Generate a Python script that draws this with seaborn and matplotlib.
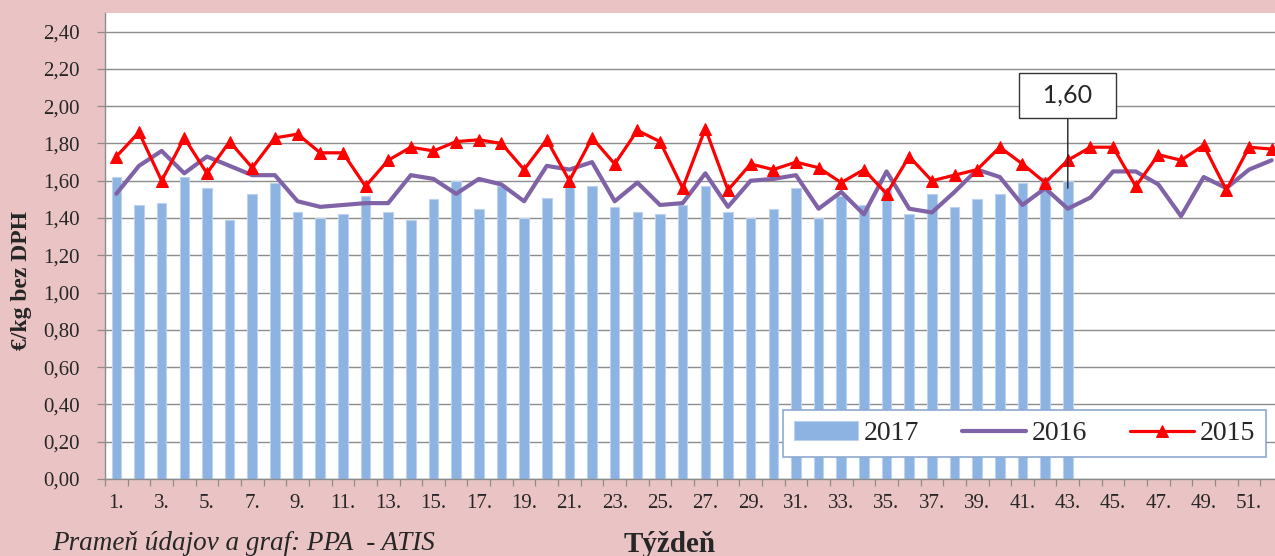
import pandas as pd
import seaborn as sns
import matplotlib
matplotlib.use("Agg")
import matplotlib.pyplot as plt

# data (EUR/kg without VAT, per week)
weeks = list(range(1, 53))
price_2017 = [1.62, 1.47, 1.48, 1.62, 1.56, 1.39, 1.53, 1.59, 1.43, 1.40,
              1.42, 1.52, 1.43, 1.39, 1.50, 1.60, 1.45, 1.57, 1.40, 1.51,
              1.60, 1.57, 1.46, 1.43, 1.42, 1.47, 1.57, 1.43, 1.40, 1.45,
              1.56, 1.40, 1.52, 1.47, 1.56, 1.42, 1.53, 1.46, 1.50, 1.53,
              1.59, 1.62, 1.60]
price_2016 = [1.53, 1.68, 1.76, 1.64, 1.73, 1.68, 1.63, 1.63, 1.49, 1.46,
              1.47, 1.48, 1.48, 1.63, 1.61, 1.53, 1.61, 1.58, 1.49, 1.68,
              1.66, 1.70, 1.49, 1.59, 1.47, 1.48, 1.64, 1.46, 1.60, 1.61,
              1.63, 1.45, 1.54, 1.42, 1.65, 1.45, 1.43, 1.54, 1.66, 1.62,
              1.47, 1.56, 1.45, 1.51, 1.65, 1.65, 1.58, 1.41, 1.62, 1.56,
              1.66, 1.71]
price_2015 = [1.73, 1.86, 1.60, 1.83, 1.64, 1.81, 1.67, 1.83, 1.85, 1.75,
              1.75, 1.57, 1.71, 1.78, 1.76, 1.81, 1.82, 1.80, 1.66, 1.82,
              1.60, 1.83, 1.69, 1.87, 1.81, 1.56, 1.88, 1.55, 1.69, 1.66,
              1.70, 1.67, 1.59, 1.66, 1.53, 1.73, 1.60, 1.63, 1.66, 1.78,
              1.69, 1.59, 1.71, 1.78, 1.78, 1.57, 1.74, 1.71, 1.79, 1.55,
              1.78, 1.77]
y_ticks = [0.0, 0.2, 0.4, 0.6, 0.8, 1.0, 1.2, 1.4, 1.6, 1.8, 2.0, 2.2, 2.4]
last_label = "1,60"

BG = "#EAC4C4"
W, H = 1275, 556

sns.set_style("white")
plt.rcParams["font.family"] = ["Liberation Serif", "DejaVu Serif"]

df17 = pd.DataFrame({"week": weeks[:len(price_2017)], "price": price_2017})
df_old = pd.DataFrame({"week": weeks, "p2016": price_2016, "p2015": price_2015})

fig = plt.figure(figsize=(W / 100, H / 100), dpi=100, facecolor=BG)
# plot area runs slightly past the right edge, as in the cropped original
ax = fig.add_axes([105 / W, (H - 479) / H, 1178 / W, 466 / H])
ax.set_facecolor("white")

sns.barplot(data=df17, x="week", y="price", native_scale=True, width=0.42,
            color="#8DB3E2", edgecolor="#BCD2EE", linewidth=0.8,
            saturation=1, label="2017", ax=ax, zorder=2)
sns.lineplot(data=df_old, x="week", y="p2016", color="#7F63A6", linewidth=3.0,
             label="2016", ax=ax, zorder=3)
sns.lineplot(data=df_old, x="week", y="p2015", color="#FF0000", linewidth=2.3,
             marker="^", markersize=9, markeredgecolor="#FF0000",
             label="2015", ax=ax, zorder=4)

ax.set_xlim(0.5, 52.5)
ax.set_ylim(0, 2.5)
ax.set_yticks(y_ticks)
ax.set_yticklabels([f"{v:.2f}".replace(".", ",") for v in y_ticks])
odd_weeks = weeks[::2]
ax.set_xticks(odd_weeks)
ax.set_xticklabels([f"{w}." for w in odd_weeks])
ax.set_xticks([w + 0.5 for w in range(0, 53)], minor=True)
ax.tick_params(axis="x", which="major", length=0, pad=11, labelsize=15)
ax.tick_params(axis="x", which="minor", length=5, width=0.9, color="#8C8C8C",
               direction="out", bottom=True)
ax.tick_params(axis="y", length=6, width=0.9, color="#8C8C8C", pad=12,
               labelsize=15, left=True)
ax.yaxis.grid(True, color="#8C8C8C", linewidth=1)
ax.set_axisbelow(True)
for side in ["top", "right"]:
    ax.spines[side].set_visible(False)
for side in ["left", "bottom"]:
    ax.spines[side].set_color("#8C8C8C")
    ax.spines[side].set_linewidth(1)
ax.set_xlabel("")
ax.set_ylabel("")

# callout for the last 2017 value
ax.annotate(f"  {last_label}  ", xy=(len(price_2017), 1.56),
            xytext=(len(price_2017), 2.057),
            ha="center", va="center", fontsize=18, family=["Lato", "DejaVu Sans"],
            bbox=dict(boxstyle="square,pad=0.45", fc="white", ec="#333333", lw=1),
            arrowprops=dict(arrowstyle="-", color="#222222", lw=1,
                            shrinkA=0, shrinkB=0), zorder=6)

handles, labels = ax.get_legend_handles_labels()
order = [labels.index(k) for k in ["2017", "2016", "2015"]]
leg = ax.legend([handles[i] for i in order], [labels[i] for i in order],
                loc="center", ncol=3, mode="expand",
                bbox_to_anchor=(783 / W, 1 - 462 / H, 483 / W, 57 / H),
                bbox_transform=fig.transFigure, borderaxespad=0,
                fontsize=20, frameon=True, fancybox=False, borderpad=0.4,
                handlelength=2.3, handletextpad=0.2)
leg.get_frame().set_edgecolor("#8EA9D0")
leg.get_frame().set_linewidth(1.2)
leg.get_frame().set_alpha(1)
leg.set_zorder(7)

fig.text(22 / W, 1 - 280 / H, "€/kg bez DPH", rotation=90, ha="center",
         va="center", fontsize=17, fontweight="bold")
fig.text(670 / W, (H - 552) / H, "Týždeň", ha="center", va="baseline",
         fontsize=21, fontweight="bold")
fig.text(52 / W, (H - 550) / H, "Prameň údajov a graf: PPA  - ATIS",
         ha="left", va="baseline", fontsize=19.5, style="italic")

fig.savefig("out.png", dpi=100, facecolor=BG)
